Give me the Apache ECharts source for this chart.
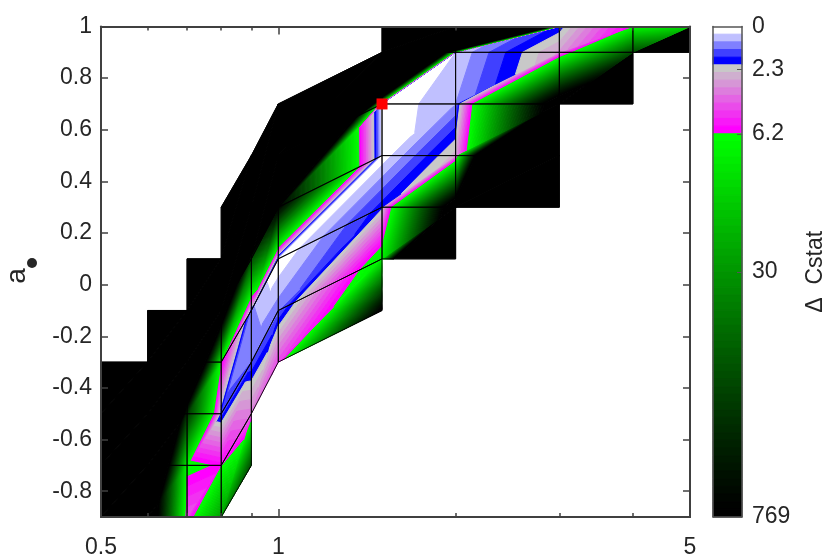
<!DOCTYPE html>
<html><head><meta charset="utf-8">
<style>html,body{margin:0;padding:0;background:#fff}#c{width:831px;height:560px}</style>
<script src="https://cdn.jsdelivr.net/npm/echarts@6/dist/echarts.min.js"></script>
</head><body><div id="c"></div>
<script>
// Mesh columns (x) and, for each mesh row, node y and colour level. null = no node.
const xGrid = [0.5,0.6,0.7,0.8,0.9,1,1.5,2,3,4,5];
const n = null;
const rowY0 = [-0.9,-0.9,-0.9,-0.9,-0.7,n,n,n,n,n,n];
const rowL0 = [500,80,10,30,45,n,n,n,n,n,n];
const rowY1 = [-0.7,-0.7,-0.7,-0.7,-0.5,-0.3,-0.1,n,n,n,n];
const rowL1 = [500,117,15,13.5,8.5,10.5,65,n,n,n,n];
const rowY2 = [-0.5,-0.5,-0.5,-0.5,-0.3,-0.1,0.1,0.1,n,n,n];
const rowL2 = [500,200,50,3.2,3,2.6,17,300,n,n,n];
const rowY3 = [-0.3,-0.3,-0.3,-0.3,-0.1,0.1,0.3,0.3,0.3,n,n];
const rowL3 = [500,500,120,14,2.2,0.1,4.5,75,600,n,n];
const rowY4 = [n,-0.1,-0.1,-0.1,0.1,0.3,0.5,0.5,0.5,n,n];
const rowL4 = [n,500,300,80,45,62,0.2,6.4,300,n,n];
const rowY5 = [n,n,0.1,0.1,0.3,0.5,0.7,0.7,0.7,0.7,n];
const rowL5 = [n,n,500,200,250,250,0,2,74,500,n];
const rowY6 = [n,n,n,0.3,0.5,0.7,0.9,0.9,0.9,0.9,0.9];
const rowL6 = [n,n,n,500,500,500,450,1,7.2,45,500];
const rowY7 = [n,n,n,n,n,n,1,1,1,1,1];
const rowL7 = [n,n,n,n,n,n,600,600,4.3,14,20];
const rowsY = [rowY0,rowY1,rowY2,rowY3,rowY4,rowY5,rowY6,rowY7];
const rowsL = [rowL0,rowL1,rowL2,rowL3,rowL4,rowL5,rowL6,rowL7];
const bestFit = [[1.5,0.7]];
const xMajor = [0.5,1,5];
const xMinor = [0.6,0.7,0.8,0.9,2,3,4];
const yTicks = [-0.8,-0.6,-0.4,-0.2,0,0.2,0.4,0.6,0.8,1];
const barTickLevels = [0,5.6,14,32,64];
const barTickLabels = ['0','2.3','6.2','30','769'];

function levelColor(i){
  if(i<=0) return '#ffffff';
  if(i===1) return '#c0c0ff';
  if(i===2) return '#8080ff';
  if(i===3) return '#4040ff';
  if(i===4) return '#0000ff';
  if(i<14){const t=(i-5)/8;return `rgb(${Math.round(200+55*t)},${Math.round(200-200*t)},${Math.round(200+55*t)})`;}
  const g=Math.round(255*Math.pow(Math.max(0,1-(i-14)/49),1.2));
  return `rgb(0,${g},0)`;
}
// triangles and quads of the mesh
const tris=[], quads=[];
for(let j=0;j<rowsY.length-1;j++)for(let i=0;i<xGrid.length-1;i++){
  const A=[i,j],B=[i+1,j],C=[i+1,j+1],D=[i,j+1];
  if([A,B,C,D].some(p=>rowsY[p[1]][p[0]]===null))continue;
  quads.push([A,B,C,D]);
  tris.push([A,B,C]);tris.push([A,C,D]);
}
function clip(poly,level,keepAbove){
  const out=[];
  for(let k=0;k<poly.length;k++){
    const a=poly[k],b=poly[(k+1)%poly.length];
    const ia=keepAbove?a[2]>=level:a[2]<=level, ib=keepAbove?b[2]>=level:b[2]<=level;
    if(ia)out.push(a);
    if(ia!==ib){const t=(level-a[2])/(b[2]-a[2]);out.push([a[0]+t*(b[0]-a[0]),a[1]+t*(b[1]-a[1]),level]);}
  }
  return out;
}
function renderTri(params,api){
  const tri=tris[api.value(0)];
  const pts=tri.map(p=>{const c=api.coord([xGrid[p[0]],rowsY[p[1]][p[0]]]);return [c[0],c[1],rowsL[p[1]][p[0]]];});
  const ls=pts.map(p=>p[2]);
  const lo=Math.min(63,Math.max(0,Math.floor(Math.min(...ls)))),hi=Math.min(63,Math.floor(Math.max(...ls)));
  const children=[];
  for(let k=lo;k<=hi;k++){
    let poly=pts;
    if(k>0)poly=clip(poly,k,true);
    if(k<63&&poly.length)poly=clip(poly,k+1,false);
    if(poly.length<3)continue;
    const col=levelColor(k);
    children.push({type:'polygon',shape:{points:poly.map(p=>[p[0],p[1]])},style:{fill:col,stroke:col,lineWidth:1}});
  }
  return {type:'group',children};
}
function renderQuad(params,api){
  const q=quads[api.value(0)];
  return {type:'polygon',shape:{points:q.map(p=>api.coord([xGrid[p[0]],rowsY[p[1]][p[0]]]))},
    style:{fill:null,stroke:'#000',lineWidth:0.9}};
}
function renderBar(params,api){
  const i=api.value(0);
  const a=api.coord([0,i]),b=api.coord([1,i+1]);
  const col=levelColor(i);
  return {type:'rect',shape:{x:a[0],y:a[1],width:b[0]-a[0],height:b[1]-a[1]},style:{fill:col,stroke:col,lineWidth:1}};
}
const font='"Liberation Sans"';
const txt='#262626', line='#404040';
const lab={color:txt,fontFamily:font,fontSize:23};
const xAx=(pos,vals,len,show)=>({type:'log',logBase:10,gridIndex:0,min:0.5,max:5,position:pos,z:5,
  axisLine:{show:true,onZero:false,lineStyle:{color:line,width:2}},
  axisTick:{show:true,inside:true,length:len,customValues:vals,lineStyle:{color:line,width:1.5}},
  axisLabel:{show:show,customValues:vals,margin:19,formatter:v=>String(v),...lab,hideOverlap:false,showMinLabel:true,showMaxLabel:true},
  splitLine:{show:false},minorTick:{show:false},minorSplitLine:{show:false}});
const yAx=(pos,show)=>({type:'value',gridIndex:0,min:-0.9,max:1,position:pos,z:5,
  axisLine:{show:true,onZero:false,lineStyle:{color:line,width:2}},
  axisTick:{show:true,inside:true,length:7,customValues:yTicks,lineStyle:{color:line,width:1.5}},
  axisLabel:{show:show,customValues:yTicks,margin:9,padding:[4,0,0,0],formatter:v=>String(v),...lab},
  splitLine:{show:false}});
const option={
  animation:false,backgroundColor:'#fff',
  grid:[{left:101,top:26.5,width:589,height:490.5},{left:713,top:26.5,width:29,height:490.5}],
  graphic:[
    {type:'text',x:17,y:276,rotation:Math.PI/2,z:10,style:{text:'a',align:'center',verticalAlign:'middle',fill:txt,font:'28px "Liberation Sans"'}},
    {type:'circle',shape:{cx:32,cy:263,r:5},z:10,style:{fill:txt}}
  ],
  xAxis:[xAx('bottom',xMajor,8,true),xAx('top',xMajor,8,false),xAx('bottom',xMinor,4,false),xAx('top',xMinor,4,false),
    {type:'value',gridIndex:1,min:0,max:1,position:'bottom',show:true,z:5,axisLine:{onZero:false,lineStyle:{color:'#555',width:1.5}},axisTick:{show:false},axisLabel:{show:false},splitLine:{show:false}},
    {type:'value',gridIndex:1,min:0,max:1,position:'top',show:true,z:5,axisLine:{onZero:false,lineStyle:{color:'#555',width:1.5}},axisTick:{show:false},axisLabel:{show:false},splitLine:{show:false}}],
  yAxis:[yAx('left',true),
    yAx('right',false),
    {type:'value',gridIndex:1,min:0,max:64,inverse:true,position:'right',z:5,
      name:'Δ  Cstat',nameLocation:'middle',nameRotate:90,nameGap:62,
      nameTextStyle:{color:txt,fontFamily:font,fontSize:23},
      axisLine:{show:true,onZero:false,lineStyle:{color:'#555',width:1.5}},
      axisTick:{show:true,inside:true,length:5,customValues:barTickLevels.slice(1,4),lineStyle:{color:'#555',width:1}},
      axisLabel:{show:true,customValues:barTickLevels,margin:10,padding:[4,0,0,0],formatter:v=>barTickLabels[barTickLevels.indexOf(v)],...lab},
      splitLine:{show:false}},
    {type:'value',gridIndex:1,min:0,max:64,inverse:true,position:'left',z:5,
      axisLine:{show:true,onZero:false,lineStyle:{color:'#555',width:1.5}},axisTick:{show:false},axisLabel:{show:false},splitLine:{show:false}}],
  series:[
    {type:'custom',coordinateSystem:'cartesian2d',xAxisIndex:0,yAxisIndex:0,z:2,silent:true,clip:true,
      renderItem:renderTri,encode:{x:-1,y:-1},data:tris.map((t,i)=>[i])},
    {type:'custom',coordinateSystem:'cartesian2d',xAxisIndex:0,yAxisIndex:0,z:3,silent:true,clip:true,
      renderItem:renderQuad,encode:{x:-1,y:-1},data:quads.map((q,i)=>[i])},
    {type:'scatter',xAxisIndex:0,yAxisIndex:0,z:6,symbol:'rect',symbolSize:11,itemStyle:{color:'#ff0000',opacity:1},data:bestFit,silent:true},
    {type:'custom',coordinateSystem:'cartesian2d',xAxisIndex:4,yAxisIndex:2,z:2,silent:true,
      renderItem:renderBar,encode:{x:-1,y:-1},data:Array.from({length:64},(_,i)=>[i])}
  ]
};
const chart=echarts.init(document.getElementById('c'),null,{renderer:'canvas'});
chart.setOption(option);
</script></body></html>
